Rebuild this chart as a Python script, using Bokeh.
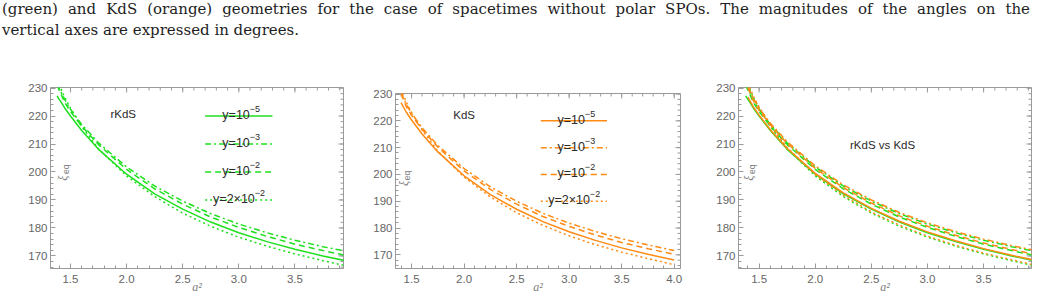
import math
import numpy as np
from bokeh.plotting import figure
from bokeh.models import (Div, LinearAxis, SingleIntervalTicker, Range1d, Label,
                          ColumnDataSource, NumeralTickFormatter)
from bokeh.layouts import column, row
from bokeh.core.properties import value
from bokeh.embed import file_html
from bokeh.resources import INLINE

# ---------------- data ----------------
a2_r = [1.38, 1.45, 1.5, 1.6, 1.75, 2.0, 2.25, 2.5, 2.75, 3.0, 3.25, 3.5, 3.75, 3.95]
r_y5 = [227.2, 222.8, 220.0, 214.8, 208.1, 199.2, 192.2, 186.7, 182.1, 178.3, 175.1, 172.4, 170.0, 168.3]
r_y3 = [231.5, 225.8, 222.4, 217.0, 210.4, 201.8, 195.0, 189.6, 185.1, 181.4, 178.3, 175.6, 173.3, 171.7]
r_y2 = [231.0, 224.8, 221.6, 216.4, 209.8, 200.9, 194.0, 188.5, 183.9, 180.2, 177.0, 174.2, 171.9, 170.2]
r_y22 = [233.0, 226.5, 222.8, 216.2, 208.3, 198.6, 191.2, 185.3, 180.6, 176.7, 173.5, 170.7, 168.3, 166.5]

a2_k = [1.40, 1.45, 1.5, 1.6, 1.75, 2.0, 2.25, 2.5, 2.75, 3.0, 3.25, 3.5, 3.75, 4.0]
k_y5 = [226.8, 223.2, 220.3, 215.1, 208.4, 199.5, 192.5, 187.0, 182.4, 178.6, 175.4, 172.6, 170.2, 168.1]
k_y3 = [230.5, 226.2, 222.8, 217.4, 210.8, 202.2, 195.4, 190.0, 185.5, 181.8, 178.7, 176.0, 173.7, 171.6]
k_y2 = [230.0, 225.3, 222.0, 216.8, 210.2, 201.3, 194.4, 188.9, 184.3, 180.6, 177.4, 174.6, 172.3, 170.2]
k_y22 = [232.0, 226.9, 223.2, 216.6, 208.7, 199.0, 191.6, 185.7, 181.0, 177.1, 173.8, 171.0, 168.6, 166.3]

legend_base = ["y=10", "y=10", "y=10", "y=2\u00d710"]
legend_exp = ["\u22125", "\u22123", "\u22122", "\u22122"]
legend_y = [220, 210, 200, 190]
legend_x0 = [2.70, 2.73]
legend_x1 = [3.30, 3.36]

caption1 = ("(green) and KdS (orange) geometries for the case of spacetimes without polar SPOs.  "
            "The magnitudes of the angles on the")
caption2 = "vertical axes are expressed in degrees."

GREEN = "#1ee01e"
ORANGE = "#ff8a14"
DASHES = ["solid", "6 3 2 3", "6 4", "2 3"]
TICK_GRAY = "#666666"
FRAME_GRAY = "#9a9a9a"
TEXT_DARK = "#2a2a2a"


def make_fig(width, height, xr, yr, mbl, mbr, mbt, mbb):
    p = figure(width=width, height=height, x_range=Range1d(*xr), y_range=Range1d(*yr),
               output_backend="svg", toolbar_location=None, title=None,
               min_border_left=mbl, min_border_right=mbr, min_border_top=mbt, min_border_bottom=mbb,
               x_axis_type=None, y_axis_type=None, frame_align=False)
    p.grid.visible = False
    p.outline_line_color = FRAME_GRAY
    p.background_fill_color = "white"
    p.border_fill_color = "white"
    p.margin = 0
    for side, iv in (("below", 0.5), ("left", 10)):
        ax = LinearAxis(ticker=SingleIntervalTicker(interval=iv, num_minor_ticks=5))
        ax.axis_line_color = FRAME_GRAY
        ax.major_tick_line_color = FRAME_GRAY
        ax.minor_tick_line_color = FRAME_GRAY
        ax.major_tick_in = 5
        ax.major_tick_out = 0
        ax.minor_tick_in = 3
        ax.minor_tick_out = 0
        ax.major_label_text_font = "Liberation Sans"
        ax.major_label_text_font_size = "11.5px"
        ax.major_label_text_color = TICK_GRAY
        if side == "below":
            ax.formatter = NumeralTickFormatter(format="0.0")
            ax.major_label_standoff = 6
            ax.axis_label = "a\u00b2"
            ax.axis_label_text_font = "Liberation Serif"
            ax.axis_label_text_font_style = "italic"
            ax.axis_label_text_font_size = "12px"
            ax.axis_label_text_color = "#808080"
            ax.axis_label_standoff = -6
        else:
            ax.major_label_standoff = 3
        p.add_layout(ax, side)
    # mirrored ticks on the top and right frame edges
    x0, x1 = xr
    y0, y1 = yr
    xmaj = [v for v in np.arange(1.5, 4.01, 0.5) if x0 <= v <= x1]
    xmin = [v for v in np.arange(1.4, 4.05, 0.1) if x0 <= v <= x1]
    ymaj = [v for v in np.arange(170, 231, 10) if y0 <= v <= y1]
    ymin = [v for v in np.arange(166, 231, 2) if y0 <= v <= y1]
    p.ray(x=xmaj, y=[y1] * len(xmaj), length=5, length_units="screen", angle=-math.pi / 2,
          line_color=FRAME_GRAY, line_width=1)
    p.ray(x=xmin, y=[y1] * len(xmin), length=3, length_units="screen", angle=-math.pi / 2,
          line_color=FRAME_GRAY, line_width=1)
    p.ray(x=[x1] * len(ymaj), y=ymaj, length=5, length_units="screen", angle=math.pi,
          line_color=FRAME_GRAY, line_width=1)
    p.ray(x=[x1] * len(ymin), y=ymin, length=3, length_units="screen", angle=math.pi,
          line_color=FRAME_GRAY, line_width=1)
    return p


def add_ylabel(p, sx, y_xi, y_eq):
    p.add_layout(Label(x=sx, y=y_xi, x_units="screen", y_units="data", text="\u03be",
                       angle=math.pi / 2, text_align="center", text_baseline="middle",
                       text_font="Liberation Serif", text_font_style="italic",
                       text_font_size="12px", text_color="#808080"))
    p.add_layout(Label(x=sx + 3, y=y_eq, x_units="screen", y_units="data", text="eq",
                       angle=math.pi / 2, text_align="center", text_baseline="middle",
                       text_font="Liberation Sans", text_font_size="8.5px", text_color="#808080"))


def add_curves(p, xs, series, color):
    for ys, dash in zip(series, DASHES):
        p.line(xs, ys, line_color=color, line_width=1.5, line_dash=dash)


def add_legend(p, color, x0, x1):
    xm = (x0 + x1) / 2
    for yy, dash in zip(legend_y, DASHES):
        p.segment(x0=[x0], y0=[yy], x1=[x1], y1=[yy], line_color=color, line_width=1.5, line_dash=dash)
    offs = [11, 11, 11, 16]
    src = ColumnDataSource(dict(x=[xm] * 4, y=legend_y, b=legend_base, e=legend_exp, o=offs))
    p.text(x="x", y="y", text="b", source=src, text_align="right", text_baseline="alphabetic",
           x_offset="o", y_offset=-1, text_font=value("Liberation Sans"), text_font_size="12.5px",
           text_color=TEXT_DARK)
    p.text(x="x", y="y", text="e", source=src, text_align="left", text_baseline="alphabetic",
           x_offset="o", y_offset=-7, text_font=value("Liberation Sans"), text_font_size="9px",
           text_color=TEXT_DARK)


H = 268
# panel 1 : rKdS
p1 = make_fig(350, H, (1.322, 3.933), (165.5, 230.2), 50, 7, 47, 40)
add_curves(p1, a2_r, [r_y5, r_y3, r_y2, r_y22], GREEN)
add_legend(p1, GREEN, legend_x0[0], legend_x1[0])
p1.text(x=[1.97], y=[220.7], text=["rKdS"], text_align="center", text_baseline="middle",
        text_font=value("Liberation Sans"), text_font_size="11.5px", text_color=TEXT_DARK)
add_ylabel(p1, 12, 197.8, 201.0)

# panel 2 : KdS
p2 = make_fig(340, H, (1.347, 4.06), (164.9, 230.2), 45, 10, 53, 40)
add_curves(p2, a2_k, [k_y5, k_y3, k_y2, k_y22], ORANGE)
add_legend(p2, ORANGE, legend_x0[1], legend_x1[1])
p2.text(x=[2.0], y=[222.0], text=["KdS"], text_align="center", text_baseline="middle",
        text_font=value("Liberation Sans"), text_font_size="11.5px", text_color=TEXT_DARK)
add_ylabel(p2, 8, 196.6, 199.6)

# panel 3 : rKdS vs KdS
p3 = make_fig(348, H, (1.316, 3.927), (165.5, 230.2), 48, 7, 47, 40)
add_curves(p3, a2_r, [r_y5, r_y3, r_y2, r_y22], GREEN)
add_curves(p3, a2_k, [k_y5, k_y3, k_y2, k_y22], ORANGE)
p3.text(x=[2.6], y=[209.5], text=["rKdS vs KdS"], text_align="center", text_baseline="middle",
        text_font=value("Liberation Sans"), text_font_size="11.5px", text_color=TEXT_DARK)
add_ylabel(p3, 10, 197.8, 201.0)

cap = Div(text=(
    '<div style="font-family:\'DejaVu Serif\';font-size:15px;line-height:21px;color:#1e1e1e;'
    'width:1028px;margin-left:2px;margin-top:-1px">'
    '<div style="text-align:justify;text-align-last:justify">' + caption1 + '</div>'
    '<div>' + caption2 + '</div></div>'),
    width=1038, height=40, margin=0, styles={"overflow": "visible"})

layout = column(cap, row(p1, p2, p3, spacing=0, margin=0), spacing=0, margin=0)
open("out.html", "w").write(file_html(layout, INLINE))
